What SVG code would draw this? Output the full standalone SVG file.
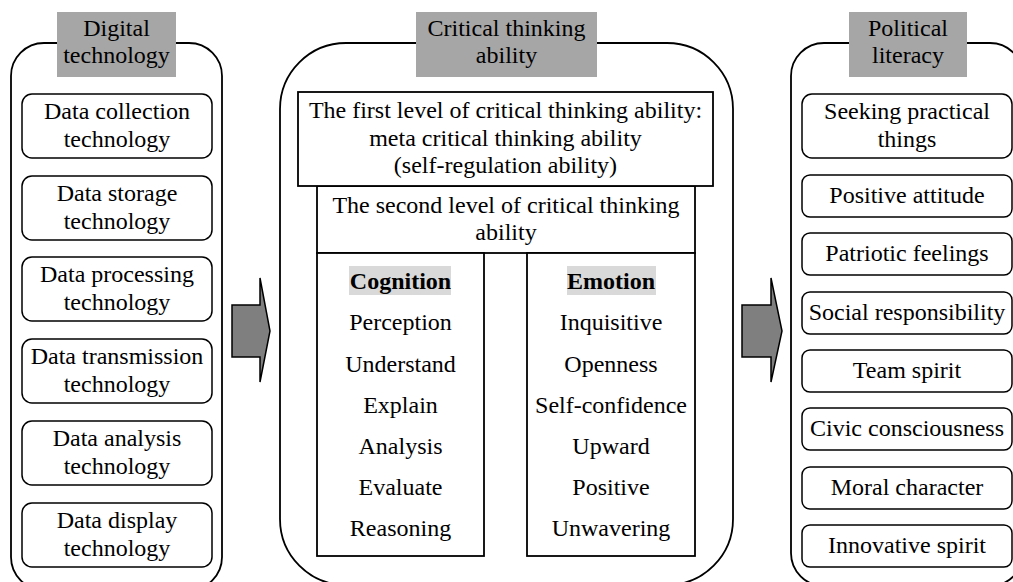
<svg xmlns="http://www.w3.org/2000/svg" width="1013" height="582" viewBox="0 0 1013 582" font-family="'Liberation Serif', 'DejaVu Serif', serif">
<style>
text{font-family:'Liberation Serif','DejaVu Serif',serif;font-size:24px;fill:#000;text-anchor:middle}
.cont{fill:none;stroke:#000;stroke-width:1.8}
.title{fill:#a6a6a6;stroke:none}
.rbox{fill:#fff;stroke:#000;stroke-width:1.5}
.sbox{fill:#fff;stroke:#000;stroke-width:1.8}
.hl{fill:#d9d9d9}
.b{font-weight:bold}
.arrow{fill:#7f7f7f;stroke:#000;stroke-width:1.5;stroke-linejoin:miter}
</style>
<rect width="1013" height="582" fill="#fff"/>
<g id="digital-technology">
<rect class="cont" x="11" y="43" width="211" height="547" rx="33" ry="33"/>
<rect class="title" x="57" y="12" width="119" height="65"/>
<text x="116.5" y="36">Digital</text>
<text x="116.5" y="63">technology</text>
<g id="dt1"><rect class="rbox" x="22" y="94" width="190" height="64" rx="10"/><text x="117" y="119">Data collection</text><text x="117" y="147">technology</text></g>
<g id="dt2"><rect class="rbox" x="22" y="176" width="190" height="64" rx="10"/><text x="117" y="201">Data storage</text><text x="117" y="229">technology</text></g>
<g id="dt3"><rect class="rbox" x="22" y="257" width="190" height="64" rx="10"/><text x="117" y="282">Data processing</text><text x="117" y="310">technology</text></g>
<g id="dt4"><rect class="rbox" x="22" y="339" width="190" height="64" rx="10"/><text x="117" y="364">Data transmission</text><text x="117" y="392">technology</text></g>
<g id="dt5"><rect class="rbox" x="22" y="421" width="190" height="64" rx="10"/><text x="117" y="446">Data analysis</text><text x="117" y="474">technology</text></g>
<g id="dt6"><rect class="rbox" x="22" y="503" width="190" height="64" rx="10"/><text x="117" y="528">Data display</text><text x="117" y="556">technology</text></g>
</g>
<g id="critical-thinking">
<rect class="cont" x="280" y="43" width="453" height="542" rx="66" ry="66"/>
<rect class="title" x="416" y="12" width="181" height="65"/>
<text x="506.5" y="36">Critical thinking</text>
<text x="506.5" y="63">ability</text>
<g id="second-level">
<rect class="sbox" x="317" y="186" width="378" height="67"/>
<text x="506" y="213">The second level of critical thinking</text>
<text x="506" y="240">ability</text>
</g>
<g id="first-level">
<rect class="sbox" x="298" y="92" width="415" height="94"/>
<text x="505.5" y="118">The first level of critical thinking ability:</text>
<text x="505.5" y="146">meta critical thinking ability</text>
<text x="505.5" y="173">(self-regulation ability)</text>
</g>
<g id="cognition">
<rect class="sbox" x="317" y="253" width="167" height="303"/>
<rect class="hl" x="349" y="266" width="102" height="29"/>
<text class="b" x="400.5" y="289">Cognition</text>
<text x="400.5" y="330">Perception</text>
<text x="400.5" y="372">Understand</text>
<text x="400.5" y="413">Explain</text>
<text x="400.5" y="454">Analysis</text>
<text x="400.5" y="495">Evaluate</text>
<text x="400.5" y="536">Reasoning</text>
</g>
<g id="emotion">
<rect class="sbox" x="527" y="253" width="168" height="303"/>
<rect class="hl" x="567" y="266" width="89" height="29"/>
<text class="b" x="611" y="289">Emotion</text>
<text x="611" y="330">Inquisitive</text>
<text x="611" y="372">Openness</text>
<text x="611" y="413">Self-confidence</text>
<text x="611" y="454">Upward</text>
<text x="611" y="495">Positive</text>
<text x="611" y="536">Unwavering</text>
</g>
</g>
<g id="political-literacy">
<rect class="cont" x="791" y="43" width="232" height="543" rx="33" ry="33"/>
<rect class="title" x="849" y="12" width="118" height="65"/>
<text x="908" y="36">Political</text>
<text x="908" y="63">literacy</text>
<g id="pl1"><rect class="rbox" x="802" y="94" width="210" height="64" rx="10"/><text x="907" y="119">Seeking practical</text><text x="907" y="147">things</text></g>
<g id="pl2"><rect class="rbox" x="802" y="175" width="210" height="42" rx="8"/><text x="907" y="203">Positive attitude</text></g>
<g id="pl3"><rect class="rbox" x="802" y="233" width="210" height="42" rx="8"/><text x="907" y="261">Patriotic feelings</text></g>
<g id="pl4"><rect class="rbox" x="802" y="292" width="210" height="42" rx="8"/><text x="907" y="320">Social responsibility</text></g>
<g id="pl5"><rect class="rbox" x="802" y="350" width="210" height="42" rx="8"/><text x="907" y="378">Team spirit</text></g>
<g id="pl6"><rect class="rbox" x="802" y="408" width="210" height="42" rx="8"/><text x="907" y="436">Civic consciousness</text></g>
<g id="pl7"><rect class="rbox" x="802" y="467" width="210" height="42" rx="8"/><text x="907" y="495">Moral character</text></g>
<g id="pl8"><rect class="rbox" x="802" y="525" width="210" height="42" rx="8"/><text x="907" y="553">Innovative spirit</text></g>
</g>
<g id="connectors">
<polygon class="arrow" points="232,305 260,305 260,278 270,331 260,382 260,357 232,357"/>
<polygon class="arrow" points="742,305 771,305 771,278 782,331 771,382 771,357 742,357"/>
</g>
</svg>
